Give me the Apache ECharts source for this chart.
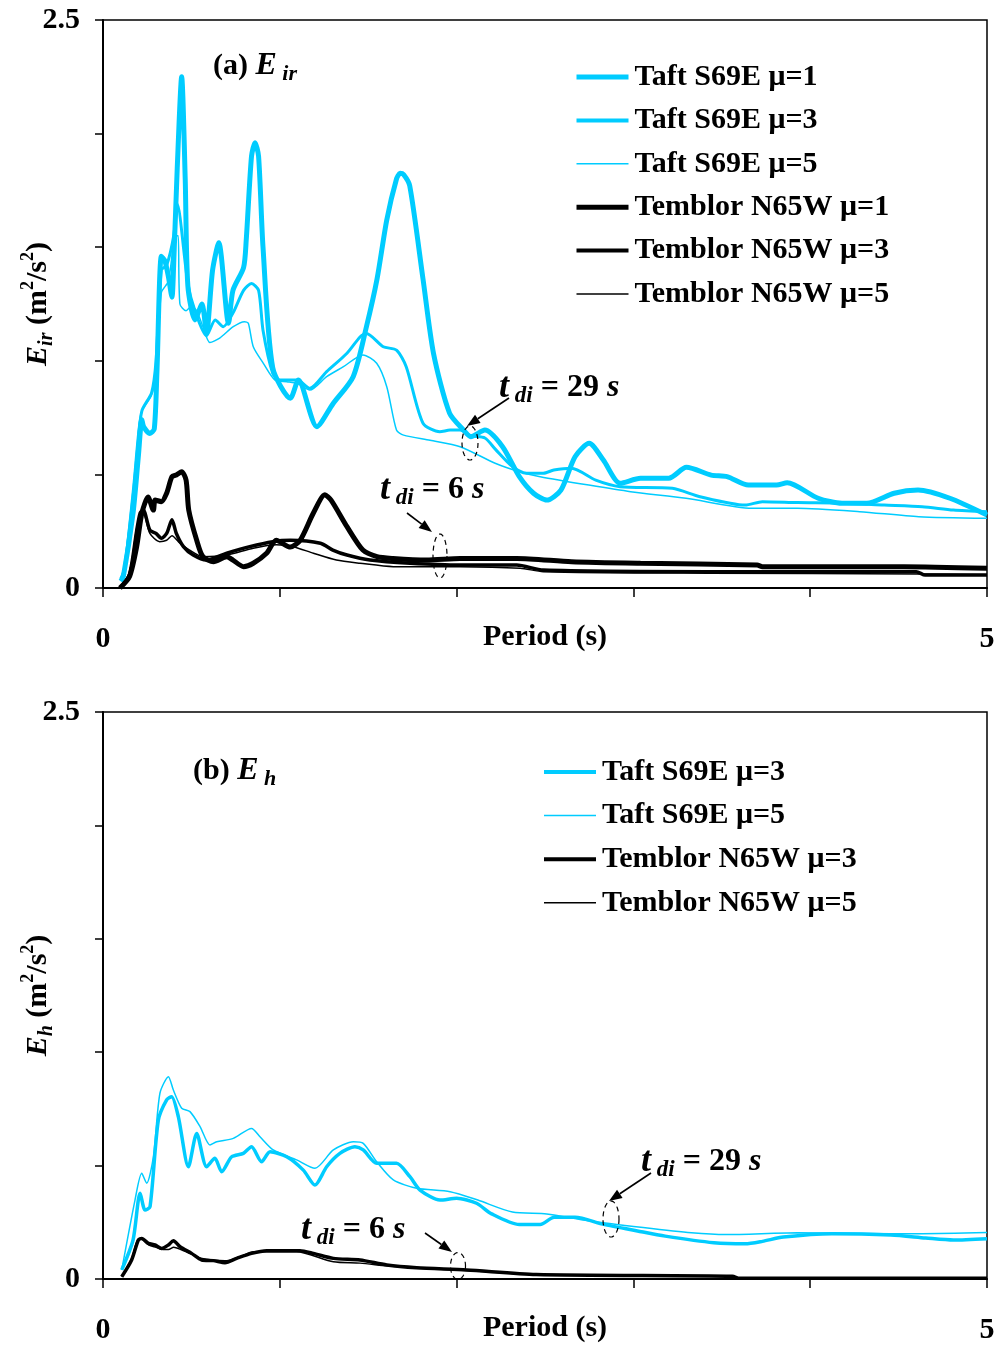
<!DOCTYPE html>
<html><head><meta charset="utf-8">
<script src="https://cdn.jsdelivr.net/npm/echarts@6/dist/echarts.min.js"></script>
<style>html,body{margin:0;padding:0;background:#fff}#c{width:997px;height:1349px}</style>
</head><body><div id="c"></div>
<script>
// ---------------- DATA ----------------
const xTicks = [0, 1, 2, 3, 4, 5];
const xLabelsShown = [0, 5];
const yLabelsShown = [0, 2.5];
const seriesNames = ['Taft S69E μ=1','Taft S69E μ=3','Taft S69E μ=5','Temblor N65W μ=1','Temblor N65W μ=3','Temblor N65W μ=5'];

// Panel (a) E_ir  [period (s), energy (m2/s2)]
const eirTaftMu1 = [[0.10,0.03],[0.115,0.05],[0.17,0.33],[0.20,0.58],[0.22,0.74],[0.23,0.71],[0.265,0.68],[0.29,0.70],[0.305,0.95],[0.33,1.46],[0.35,1.44],[0.37,1.37],[0.39,1.28],[0.40,1.43],[0.42,1.85],[0.445,2.25],[0.465,1.80],[0.48,1.33],[0.52,1.18],[0.56,1.25],[0.585,1.12],[0.62,1.40],[0.655,1.52],[0.71,1.165],[0.735,1.31],[0.795,1.41],[0.81,1.53],[0.84,1.90],[0.86,1.96],[0.88,1.90],[0.905,1.50],[0.96,0.97],[1.06,0.835],[1.105,0.915],[1.21,0.71],[1.30,0.81],[1.415,0.93],[1.49,1.15],[1.55,1.36],[1.605,1.62],[1.66,1.80],[1.68,1.825],[1.70,1.82],[1.735,1.77],[1.81,1.36],[1.87,1.03],[1.96,0.77],[2.04,0.695],[2.08,0.666],[2.16,0.695],[2.26,0.622],[2.355,0.49],[2.435,0.417],[2.51,0.387],[2.59,0.431],[2.67,0.578],[2.75,0.637],[2.83,0.563],[2.925,0.461],[3.04,0.483],[3.20,0.483],[3.30,0.531],[3.44,0.497],[3.53,0.49],[3.65,0.453],[3.81,0.453],[3.87,0.463],[4.045,0.395],[4.18,0.373],[4.32,0.373],[4.475,0.417],[4.61,0.431],[4.79,0.395],[5.0,0.321]];
const eirTaftMu3 = [[0.10,0.04],[0.12,0.08],[0.17,0.40],[0.20,0.65],[0.22,0.78],[0.275,0.86],[0.30,1.0],[0.33,1.40],[0.36,1.42],[0.40,1.55],[0.42,1.69],[0.48,1.34],[0.52,1.22],[0.585,1.11],[0.635,1.18],[0.68,1.15],[0.735,1.21],[0.795,1.31],[0.84,1.34],[0.88,1.31],[0.905,1.135],[0.96,0.945],[1.0,0.915],[1.10,0.915],[1.17,0.879],[1.265,0.952],[1.38,1.033],[1.455,1.106],[1.49,1.12],[1.585,1.062],[1.66,1.047],[1.715,0.974],[1.81,0.725],[1.905,0.688],[1.963,0.695],[2.02,0.695],[2.08,0.67],[2.16,0.66],[2.22,0.61],[2.316,0.534],[2.395,0.505],[2.49,0.505],[2.55,0.519],[2.65,0.527],[2.787,0.475],[2.925,0.446],[3.22,0.439],[3.377,0.402],[3.632,0.365],[3.73,0.38],[3.927,0.376],[4.182,0.373],[4.418,0.365],[4.633,0.358],[4.81,0.343],[5.0,0.336]];
const eirTaftMu5 = [[0.10,0.04],[0.12,0.09],[0.17,0.45],[0.20,0.70],[0.22,0.78],[0.275,0.85],[0.30,0.95],[0.33,1.30],[0.37,1.35],[0.41,1.55],[0.425,1.55],[0.435,1.25],[0.47,1.22],[0.50,1.24],[0.53,1.22],[0.565,1.15],[0.605,1.08],[0.66,1.10],[0.737,1.15],[0.80,1.172],[0.822,1.165],[0.85,1.062],[0.907,0.989],[0.973,0.915],[1.04,0.908],[1.10,0.90],[1.17,0.871],[1.265,0.93],[1.36,0.974],[1.47,1.026],[1.548,0.989],[1.605,0.886],[1.66,0.695],[1.70,0.673],[1.85,0.65],[2.02,0.622],[2.218,0.549],[2.355,0.512],[2.473,0.49],[2.748,0.453],[2.984,0.424],[3.298,0.395],[3.671,0.351],[3.927,0.351],[4.28,0.336],[4.614,0.314],[5.0,0.307]];
const eirTemMu1 = [[0.096,0.0],[0.15,0.05],[0.19,0.18],[0.22,0.33],[0.255,0.40],[0.285,0.343],[0.295,0.387],[0.33,0.38],[0.36,0.417],[0.39,0.49],[0.415,0.497],[0.445,0.512],[0.47,0.475],[0.485,0.343],[0.53,0.21],[0.565,0.138],[0.625,0.116],[0.70,0.138],[0.735,0.123],[0.795,0.094],[0.85,0.109],[0.925,0.153],[0.98,0.21],[1.06,0.18],[1.115,0.21],[1.19,0.33],[1.255,0.41],[1.29,0.387],[1.38,0.27],[1.47,0.167],[1.55,0.138],[1.64,0.13],[1.83,0.123],[2.02,0.13],[2.34,0.13],[2.65,0.116],[3.04,0.109],[3.70,0.101],[3.73,0.094],[4.53,0.094],[5.0,0.087]];
const eirTemMu3 = [[0.096,0.0],[0.15,0.06],[0.19,0.25],[0.21,0.33],[0.228,0.343],[0.265,0.255],[0.30,0.24],[0.33,0.219],[0.36,0.24],[0.39,0.30],[0.415,0.24],[0.455,0.182],[0.51,0.145],[0.585,0.123],[0.70,0.153],[0.83,0.182],[0.96,0.204],[1.06,0.21],[1.23,0.197],[1.30,0.167],[1.38,0.145],[1.51,0.123],[1.736,0.109],[2.02,0.101],[2.34,0.101],[2.49,0.079],[3.42,0.072],[4.6,0.072],[4.65,0.057],[5.0,0.057]];
const eirTemMu5 = [[0.096,0.0],[0.15,0.07],[0.19,0.26],[0.215,0.33],[0.228,0.33],[0.265,0.24],[0.32,0.204],[0.36,0.21],[0.39,0.23],[0.435,0.197],[0.49,0.167],[0.565,0.138],[0.70,0.145],[0.85,0.175],[0.98,0.19],[1.076,0.182],[1.19,0.153],[1.32,0.123],[1.454,0.109],[1.642,0.094],[2.02,0.094],[2.36,0.087],[2.49,0.072],[3.42,0.065],[4.6,0.062],[5.0,0.058]];

// Panel (b) E_h
const ehTaftMu3 = [[0.106,0.04],[0.17,0.172],[0.21,0.378],[0.238,0.304],[0.266,0.319],[0.313,0.70],[0.36,0.79],[0.388,0.804],[0.426,0.716],[0.483,0.495],[0.53,0.642],[0.586,0.495],[0.633,0.532],[0.671,0.473],[0.728,0.539],[0.794,0.554],[0.84,0.583],[0.897,0.517],[0.945,0.561],[1.039,0.539],[1.133,0.48],[1.199,0.414],[1.265,0.495],[1.34,0.554],[1.425,0.583],[1.472,0.569],[1.548,0.51],[1.66,0.51],[1.736,0.451],[1.793,0.392],[1.906,0.348],[2.0,0.356],[2.113,0.334],[2.198,0.287],[2.355,0.24],[2.473,0.24],[2.552,0.272],[2.67,0.272],[2.827,0.242],[3.023,0.212],[3.18,0.189],[3.455,0.16],[3.632,0.155],[3.73,0.166],[3.848,0.185],[4.123,0.2],[4.457,0.194],[4.653,0.181],[4.81,0.172],[5.0,0.178]];
const ehTaftMu5 = [[0.106,0.04],[0.181,0.348],[0.219,0.466],[0.247,0.422],[0.285,0.539],[0.322,0.819],[0.37,0.892],[0.398,0.833],[0.445,0.753],[0.492,0.738],[0.549,0.672],[0.605,0.591],[0.643,0.605],[0.737,0.62],[0.84,0.664],[0.888,0.627],[0.963,0.569],[1.095,0.525],[1.199,0.488],[1.303,0.569],[1.416,0.605],[1.472,0.598],[1.548,0.517],[1.642,0.437],[1.774,0.40],[1.963,0.385],[2.12,0.348],[2.316,0.295],[2.51,0.287],[2.743,0.257],[3.055,0.227],[3.328,0.204],[3.523,0.196],[3.926,0.204],[4.457,0.2],[4.633,0.2],[5.0,0.205]];
const ehTemMu3 = [[0.106,0.01],[0.162,0.084],[0.20,0.172],[0.219,0.179],[0.256,0.157],[0.294,0.15],[0.332,0.135],[0.37,0.15],[0.398,0.169],[0.436,0.142],[0.501,0.113],[0.558,0.084],[0.624,0.081],[0.69,0.072],[0.756,0.091],[0.84,0.113],[0.926,0.125],[1.114,0.125],[1.19,0.113],[1.303,0.091],[1.454,0.084],[1.605,0.062],[1.774,0.05],[2.057,0.04],[2.45,0.02],[3.56,0.012],[3.6,0.003],[5.0,0.003]];
const ehTemMu5 = [[0.106,0.01],[0.162,0.09],[0.20,0.175],[0.219,0.175],[0.26,0.15],[0.30,0.14],[0.34,0.13],[0.37,0.13],[0.40,0.14],[0.44,0.13],[0.50,0.11],[0.56,0.09],[0.69,0.08],[0.775,0.098],[0.85,0.12],[1.095,0.12],[1.303,0.076],[1.454,0.07],[1.605,0.058],[1.774,0.048],[2.057,0.038],[2.45,0.02],[3.56,0.012],[3.6,0.003],[5.0,0.003]];

// ---------------- STYLE / LAYOUT ----------------
const FONT = '"Liberation Serif","Times New Roman",serif';
const CYAN = '#00CCFF';
const BLACK = '#000000';
const widthTop = [5, 3, 1.5, 5, 3.5, 1.5];

const chart = echarts.init(document.getElementById('c'), null, {renderer: 'canvas', width: 997, height: 1349});

function xAxisDef(gi) {
  return {
    gridIndex: gi, type: 'value', min: 0, max: 5, interval: 1,
    axisLine: {show: true, lineStyle: {color: '#000', width: 2}},
    axisTick: {show: true, length: 9, lineStyle: {color: '#000', width: 1.5}},
    splitLine: {show: false},
    axisLabel: {
      formatter: v => xLabelsShown.includes(v) ? String(v) : '',
      margin: 36, color: '#000', fontFamily: FONT, fontWeight: 'bold', fontSize: 30
    },
    name: 'Period (s)', nameLocation: 'middle', nameGap: 34, nameMoveOverlap: false,
    nameTextStyle: {color: '#000', fontFamily: FONT, fontWeight: 'bold', fontSize: 30}
  };
}
const axisNameRich = {
  e: {fontFamily: FONT, fontWeight: 'bold', fontStyle: 'italic', fontSize: 30, lineHeight: 38, color: '#000'},
  s: {fontFamily: FONT, fontWeight: 'bold', fontStyle: 'italic', fontSize: 20, lineHeight: 38, verticalAlign: 'bottom', color: '#000'},
  n: {fontFamily: FONT, fontWeight: 'bold', fontSize: 30, lineHeight: 38, color: '#000'},
  p: {fontFamily: FONT, fontWeight: 'bold', fontSize: 18, lineHeight: 38, verticalAlign: 'top', color: '#000'}
};
function yAxisDef(gi, sub) {
  return {
    gridIndex: gi, type: 'value', min: 0, max: 2.5, interval: 0.5,
    axisLine: {show: true, lineStyle: {color: '#000', width: 2}},
    axisTick: {show: true, length: 8, lineStyle: {color: '#000', width: 1.5}},
    splitLine: {show: false},
    axisLabel: {
      formatter: v => yLabelsShown.includes(v) ? String(v) : '',
      margin: 23, color: '#000', fontFamily: FONT, fontWeight: 'bold', fontSize: 30
    },
    name: '{e|E}{s|' + sub + '}{n| (m}{p|2}{n|/s}{p|2}{n|)}',
    nameLocation: 'middle', nameRotate: 90, nameGap: 46, nameMoveOverlap: false,
    nameTextStyle: {rich: axisNameRich}
  };
}
function line(name, data, gi, color, width) {
  return {
    name, type: 'line', xAxisIndex: gi, yAxisIndex: gi, data,
    symbol: 'none', smooth: 0.25, lineStyle: {color, width}, itemStyle: {color},
    emphasis: {disabled: true}, z: color === BLACK ? 3 : 2
  };
}
const legendText = {fontFamily: FONT, fontWeight: 'bold', fontSize: 30, color: '#000', lineHeight: 30, padding: [0, 0, 0, 1]};
function legendItems(idx, widths) {
  return idx.map((k, j) => ({name: seriesNames[k], lineStyle: {width: widths[j]}}));
}

const option = {
  animation: false,
  backgroundColor: '#ffffff',
  grid: [
    {left: 103, top: 20, width: 884, height: 568, show: true, borderColor: '#000', borderWidth: 1.5, backgroundColor: 'transparent', outerBoundsMode: 'none', containLabel: false},
    {left: 103, top: 712, width: 884, height: 567, show: true, borderColor: '#000', borderWidth: 1.5, backgroundColor: 'transparent', outerBoundsMode: 'none', containLabel: false}
  ],
  xAxis: [xAxisDef(0), xAxisDef(1)],
  yAxis: [yAxisDef(0, 'ir'), yAxisDef(1, 'h')],
  legend: [
    {orient: 'vertical', left: 574, top: 62, padding: 0, itemWidth: 52, itemHeight: 14, itemGap: 13.4,
     selectedMode: false, itemStyle: {opacity: 0}, data: legendItems([0,1,2,3,4,5], [5, 4, 1.5, 5, 4, 1.5]), textStyle: legendText},
    {orient: 'vertical', left: 542, top: 757, padding: 0, itemWidth: 52, itemHeight: 14, itemGap: 13.6,
     selectedMode: false, itemStyle: {opacity: 0}, data: legendItems([1,2,4,5], [4, 1.5, 4, 1.5]), textStyle: legendText}
  ],
  series: [
    line(seriesNames[0], eirTaftMu1, 0, CYAN, widthTop[0]),
    line(seriesNames[1], eirTaftMu3, 0, CYAN, widthTop[1]),
    line(seriesNames[2], eirTaftMu5, 0, CYAN, widthTop[2]),
    line(seriesNames[3], eirTemMu1, 0, BLACK, widthTop[3]),
    line(seriesNames[4], eirTemMu3, 0, BLACK, widthTop[4]),
    line(seriesNames[5], eirTemMu5, 0, BLACK, widthTop[5]),
    line(seriesNames[1], ehTaftMu3, 1, CYAN, 3.5),
    line(seriesNames[2], ehTaftMu5, 1, CYAN, 1.5),
    line(seriesNames[4], ehTemMu3, 1, BLACK, 3.5),
    line(seriesNames[5], ehTemMu5, 1, BLACK, 1.5)
  ]
};
chart.setOption(option);

// ---------------- ANNOTATIONS ----------------
const annRich = {
  a: {fontFamily: FONT, fontWeight: 'bold', fontSize: 30, lineHeight: 38, fill: '#000'},
  E: {fontFamily: FONT, fontWeight: 'bold', fontStyle: 'italic', fontSize: 32, lineHeight: 38, fill: '#000'},
  s: {fontFamily: FONT, fontWeight: 'bold', fontStyle: 'italic', fontSize: 22, lineHeight: 38, verticalAlign: 'bottom', fill: '#000'},
  t: {fontFamily: FONT, fontWeight: 'bold', fontStyle: 'italic', fontSize: 36, lineHeight: 40, fill: '#000'},
  d: {fontFamily: FONT, fontWeight: 'bold', fontStyle: 'italic', fontSize: 23, lineHeight: 40, verticalAlign: 'bottom', fill: '#000'},
  n: {fontFamily: FONT, fontWeight: 'bold', fontSize: 32, lineHeight: 40, fill: '#000'},
  i: {fontFamily: FONT, fontWeight: 'bold', fontStyle: 'italic', fontSize: 32, lineHeight: 40, fill: '#000'}
};
function richText(x, y, text) {
  return {type: 'text', x, y, z: 20, style: {text, rich: annRich, align: 'left', verticalAlign: 'middle', fill: '#000'}};
}
function arrow(x1, y1, x2, y2) {
  const ang = Math.atan2(y2 - y1, x2 - x1), L = 13, W = 5;
  const bx = x2 - L * Math.cos(ang), by = y2 - L * Math.sin(ang);
  const px = -Math.sin(ang) * W, py = Math.cos(ang) * W;
  return [
    {type: 'line', z: 20, shape: {x1, y1, x2: bx, y2: by}, style: {stroke: '#000', lineWidth: 1.6}},
    {type: 'polygon', z: 20, shape: {points: [[x2, y2], [bx + px, by + py], [bx - px, by - py]]}, style: {fill: '#000'}}
  ];
}
function ellipse(cx, cy, rx, ry) {
  const pts = [];
  for (let k = 0; k <= 48; k++) { const a = k / 48 * Math.PI * 2; pts.push([cx + rx * Math.cos(a), cy + ry * Math.sin(a)]); }
  return {type: 'polyline', z: 20, shape: {points: pts}, style: {stroke: '#000', lineWidth: 1.2, lineDash: [5, 4], fill: null}};
}
const graphics = [
  richText(213, 66, '{a|(a) }{E|E}{s| ir}'),
  richText(193, 771, '{a|(b) }{E|E}{s| h}'),
  richText(499, 388, '{t|t}{d| di}{n| = 29 }{i|s}'),
  richText(380, 490, '{t|t}{d| di}{n| = 6 }{i|s}'),
  richText(641, 1162, '{t|t}{d| di}{n| = 29 }{i|s}'),
  richText(301, 1230, '{t|t}{d| di}{n| = 6 }{i|s}'),
  ...arrow(509, 398, 467, 426),
  ...arrow(407, 513, 432, 532),
  ...arrow(651, 1173, 609, 1201),
  ...arrow(425, 1233, 452, 1252),
  ellipse(470, 443, 8, 17),
  ellipse(440, 556, 7, 22),
  ellipse(611, 1219, 8, 18),
  ellipse(458, 1266, 7.5, 13.5)
];
chart.setOption({graphic: graphics});
</script>
</body></html>
